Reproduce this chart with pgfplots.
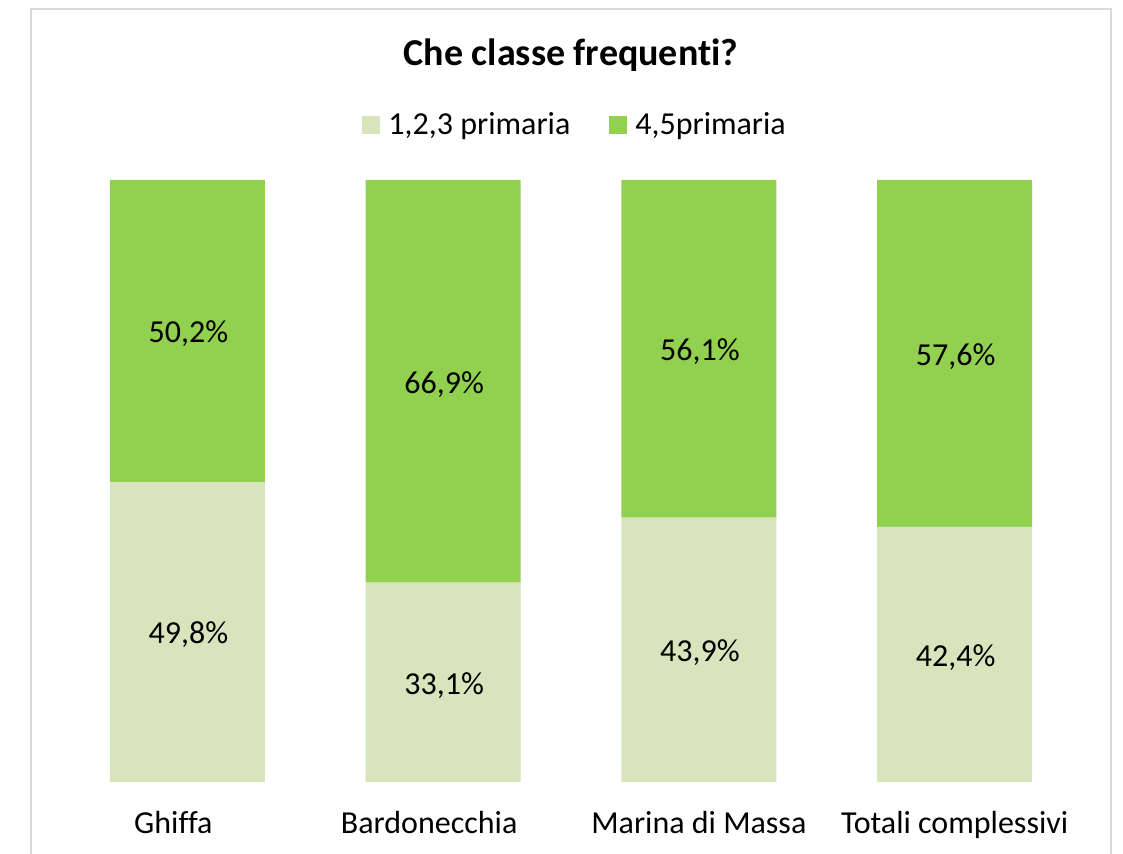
\documentclass[border=0pt]{standalone}
\usepackage{pgfplots}
\pgfplotsset{compat=1.18}
\usepackage{fontspec}
\setmainfont{Carlito}[Ligatures={NoCommon}]
\definecolor{lightg}{HTML}{D8E4BC}
\definecolor{darkg}{HTML}{92D050}
\definecolor{framegray}{HTML}{D9D9D9}
\newcommand{\lblfont}{\fontsize{16}{19}\selectfont}
\begin{document}
\begin{tikzpicture}
\path[use as bounding box] (0,0) rectangle (561.5pt,426.5pt);
\draw[framegray, line width=0.9pt] (15.5pt,-10pt) rectangle (555.5pt,422pt);
\node[anchor=base, font=\fontsize{19}{22}\selectfont\bfseries] at (285.5pt,393.5pt) {Che classe frequenti?};
\pgfplotsset{base/.style={
  scale only axis, width=511.5pt, height=301pt,
  at={(29.75pt,35.5pt)}, anchor=south west,
  xmin=-0.5, xmax=3.5, ymin=0, ymax=100,
  enlargelimits=false, axis line style={draw=none},
  ymajorticks=false, xtick style={draw=none},
  /pgf/number format/assume math mode=true,
  clip=false}}
\begin{axis}[base, ybar stacked, bar width=77.5pt,
  xtick={0,1,2,3},
  xticklabels={Ghiffa\kern14pt,Bardonecchia\kern14pt,Marina di Massa,Totali complessivi},
  xticklabel style={anchor=base, yshift=-25.5pt, font=\lblfont},
  legend columns=2,
  legend style={at={(0.505,1.0914)}, anchor=center, draw=none, fill=none, font=\lblfont,
     /tikz/every even column/.append style={column sep=17.5pt}},
  legend image code/.code={\fill[#1] (0pt,-4.5pt) rectangle (9pt,4.5pt); \path (0pt,0pt) -- (11pt,0pt);},
]
\addplot[fill=lightg, draw=none] coordinates {(0,49.8) (1,33.1) (2,43.9) (3,42.4)};
\addlegendentry{1,2,3 primaria}
\addplot[fill=darkg, draw=none] coordinates {(0,50.2) (1,66.9) (2,56.1) (3,57.6)};
\addlegendentry{4,5primaria}
\end{axis}
\begin{axis}[base, xtick=\empty, ytick=\empty, xmajorticks=false,
  point meta=explicit,
  nodes near coords={\pgfmathprintnumber[fixed,fixed zerofill,precision=1,use comma]{\pgfplotspointmeta}\%},
  every node near coord/.append style={anchor=center, yshift=-1.5pt, xshift=0.5pt, font=\lblfont, text=black}]
\addplot[only marks, mark=none] coordinates {
  (0,24.9) [49.8] (1,16.55) [33.1] (2,21.95) [43.9] (3,21.2) [42.4]
  (0,74.9) [50.2] (1,66.55) [66.9] (2,71.95) [56.1] (3,71.2) [57.6]};
\end{axis}
\end{tikzpicture}
\end{document}
